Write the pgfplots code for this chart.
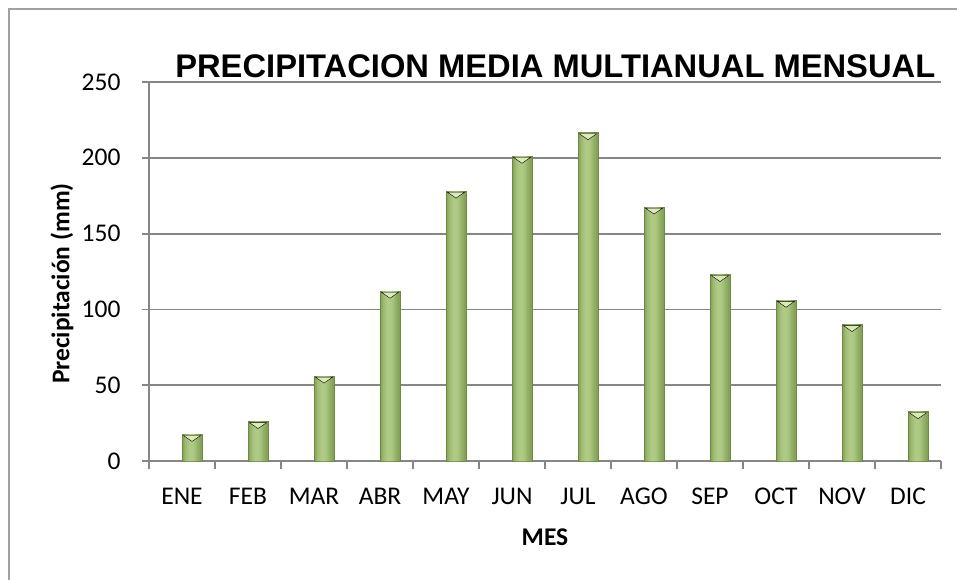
\documentclass[border=0pt]{standalone}
\usepackage{fontspec}
\setmainfont{Carlito}
\newfontfamily\titlefont{Liberation Sans}
\usepackage{pgfplots}
\usepackage{pgfplotstable}
\pgfplotsset{compat=1.18}

\definecolor{gridgray}{HTML}{868686}
\definecolor{framegray}{HTML}{A0A0A0}
\definecolor{baredge}{HTML}{6E8846}
\definecolor{barA}{HTML}{86A35A}
\definecolor{barB}{HTML}{92AF66}
\definecolor{barC}{HTML}{9DBA72}
\definecolor{barD}{HTML}{A7C37C}
\definecolor{barE}{HTML}{AFCA85}
\definecolor{barbevel}{HTML}{DCEAB8}

\pgfplotstableread{
mes  prec
0    17.5
1    26
2    56
3    112
4    178
5    201
6    216.5
7    167.5
8    123
9    106
10   90
11   32.5
}\precip

\begin{document}
\begin{tikzpicture}
  \useasboundingbox (0,0) rectangle (957pt,579pt);
  % chart frame (only top and left edges visible)
  \draw[framegray, line width=1.8pt] (9pt,-5pt) -- (9pt,570pt) -- (962pt,570pt);
  \begin{axis}[
    at={(149pt,118pt)}, anchor=south west,
    scale only axis,
    width=792pt, height=379pt,
    xmin=-0.5, xmax=11.5,
    ymin=0, ymax=250,
    ytick={0,50,...,250},
    xtick={0,...,11},
    xticklabels={ENE,FEB,MAR,ABR,MAY,JUN,JUL,AGO,SEP,OCT,NOV,DIC},
    minor xtick={-0.5,0.5,...,11.5},
    x tick style={draw=none},
    minor x tick style={draw=gridgray, line width=1.8pt},
    y tick style={draw=gridgray, line width=1.8pt},
    minor tick length=8pt, major tick length=7pt,
    tick align=outside,
    axis lines*=left,
    axis line style={gridgray, line width=1.8pt, -},
    ymajorgrids,
    grid style={gridgray, line width=1.8pt},
    /pgf/number format/assume math mode=true,
    ticklabel style={font=\fontsize{25.5}{30}\selectfont},
    xticklabel style={anchor=base, yshift=-36pt},
    yticklabel style={anchor=east, xshift=-18pt},
    xlabel={MES},
    ylabel={Precipitación (mm)},
    label style={font=\fontsize{25.5}{30}\selectfont\bfseries},
    xlabel style={at={(axis description cs:0.5,-0.2)}, anchor=center},
    ylabel style={at={(axis description cs:-0.11,0.468)}, anchor=center, rotate=0},
    title={PRECIPITACION MEDIA MULTIANUAL MENSUAL},
    title style={font=\titlefont\fontsize{32.7}{38}\selectfont\bfseries,
      at={(axis description cs:0.513,1.025)}, anchor=center},
    clip=false,
    every axis plot/.append style={ybar, draw=none},
  ]
    % bevelled bars drawn as nested layers, darker at the edges
    \addplot[fill=barA, draw=baredge, line width=0.8pt, bar width=20pt, bar shift=10pt] table[x=mes,y=prec] {\precip};
    \addplot[fill=barB, bar width=16pt, bar shift=9.5pt] table[x=mes,y=prec] {\precip};
    \addplot[fill=barC, bar width=12.5pt, bar shift=9pt] table[x=mes,y=prec] {\precip};
    \addplot[fill=barD, bar width=9pt, bar shift=9pt] table[x=mes,y=prec] {\precip};
    \addplot[fill=barE, bar width=5pt, bar shift=9pt] table[x=mes,y=prec] {\precip};
    \addplot[only marks, mark=triangle*, mark size=10pt,
      mark options={xshift=10pt, yshift=-3pt, rotate=180, yscale=0.4,
        fill=barbevel, draw=none}]
      table[x=mes,y=prec] {\precip};
  \end{axis}
\end{tikzpicture}
\end{document}
